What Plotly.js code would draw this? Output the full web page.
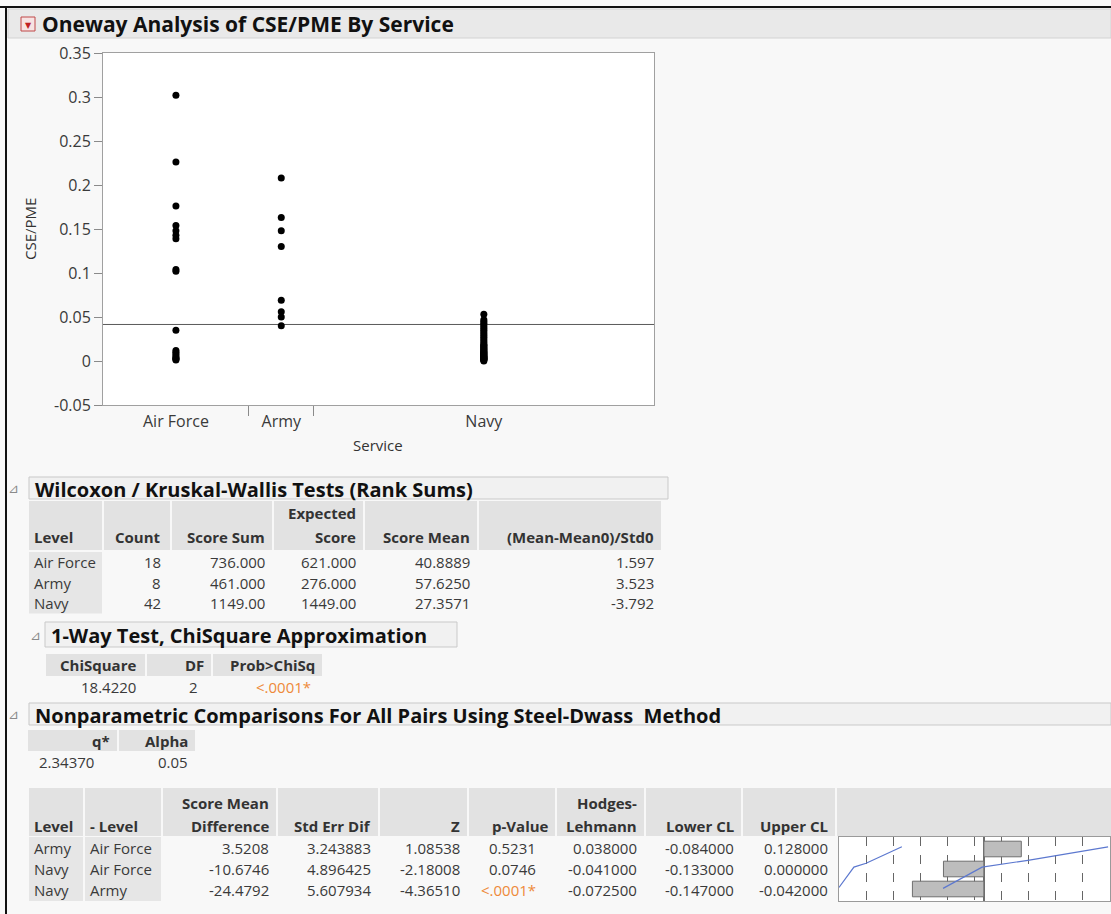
<!DOCTYPE html>
<html>
<head>
<meta charset="utf-8">
<script src="https://cdn.plot.ly/plotly-3.0.1.min.js"></script>
<style>
  html, body { margin: 0; padding: 0; background: #f8f8f8; }
  #chart { width: 1111px; height: 914px; }
</style>
</head>
<body>
<div id="chart"></div>
<script>
// ---------------- DATA ----------------
const services = ['Air Force', 'Army', 'Navy'];
const airForce = [0.302, 0.226, 0.176, 0.154, 0.148, 0.143, 0.139, 0.104, 0.102, 0.035,
                  0.012, 0.010, 0.008, 0.006, 0.004, 0.003, 0.002, 0.001];
const army = [0.208, 0.163, 0.148, 0.130, 0.069, 0.056, 0.050, 0.040];
const navy = [0.053, 0.047, 0.045, 0.043, 0.041, 0.039, 0.037, 0.035, 0.033, 0.031,
              0.029, 0.027, 0.025, 0.023, 0.021, 0.019, 0.018, 0.017, 0.016, 0.015,
              0.014, 0.013, 0.012, 0.011, 0.010, 0.009, 0.009, 0.008, 0.007, 0.007,
              0.006, 0.005, 0.005, 0.004, 0.004, 0.003, 0.003, 0.002, 0.002, 0.001,
              0.001, 0.000];
const grandMean = 0.0415;
const yTicks = [-0.05, 0, 0.05, 0.1, 0.15, 0.2, 0.25, 0.3, 0.35];
const yTickText = ['-0.05', '0', '0.05', '0.1', '0.15', '0.2', '0.25', '0.3', '0.35'];

// Wilcoxon / Kruskal-Wallis
const wLevel = ['Air Force', 'Army', 'Navy'];
const wCount = ['18', '8', '42'];
const wScoreSum = ['736.000', '461.000', '1149.00'];
const wExpected = ['621.000', '276.000', '1449.00'];
const wScoreMean = ['40.8889', '57.6250', '27.3571'];
const wStd0 = ['1.597', '3.523', '-3.792'];

// 1-way test
const chiSquare = ['18.4220'];
const chiDF = ['2'];
const chiProb = ['<.0001*'];

// Steel-Dwass
const qStar = ['2.34370'];
const alphaVal = ['0.05'];
const pLevel = ['Army', 'Navy', 'Navy'];
const pMinus = ['Air Force', 'Air Force', 'Army'];
const pScoreDiff = ['3.5208', '-10.6746', '-24.4792'];
const pStdErr = ['3.243883', '4.896425', '5.607934'];
const pZ = ['1.08538', '-2.18008', '-4.36510'];
const pValue = ['0.5231', '0.0746', '<.0001*'];
const hodges = [0.038, -0.041, -0.0725];
const lowerCL = [-0.084, -0.133, -0.147];
const upperCL = [0.128, 0.000, -0.042];
// blue curve in the small chart (fraction of width, row position)
const curveX = [0, 0.055, 0.10, 0.232, null, 0.384, 0.528, 0.697, 0.80, 0.90, 0.993];
const curveY = [1.92, 0.905, 0.71, -0.11, null, 1.97, 0.905, 0.565, 0.32, 0.08, -0.11];

// ---------------- HELPERS ----------------
const W = 1111, H = 914;
const px = x => x / W;
const py = y => 1 - y / H;
const FONT = 'Open Sans, Noto Sans, DejaVu Sans, sans-serif';
const shapes = [];
const annotations = [];

function rect(x0, y0, x1, y1, fill, line, lw) {
  shapes.push({type: 'rect', xref: 'paper', yref: 'paper', layer: 'below',
    x0: px(x0), x1: px(x1), y0: py(y1), y1: py(y0),
    fillcolor: fill, line: {color: line || 'rgba(0,0,0,0)', width: lw || 0}});
}
function hline(x0, x1, y, color, w) {
  shapes.push({type: 'line', xref: 'paper', yref: 'paper', layer: 'above',
    x0: px(x0), x1: px(x1), y0: py(y), y1: py(y), line: {color: color, width: w}});
}
function vline(x, y0, y1, color, w) {
  shapes.push({type: 'line', xref: 'paper', yref: 'paper', layer: 'above',
    x0: px(x), x1: px(x), y0: py(y0), y1: py(y1), line: {color: color, width: w}});
}
function text(x, y, t, o) {
  o = o || {};
  annotations.push({xref: 'paper', yref: 'paper', x: px(x), y: py(y), text: t,
    showarrow: false, xanchor: o.anchor || 'left', yanchor: 'middle',
    textangle: o.angle || 0,
    font: {family: FONT, size: o.size || 15, color: o.color || '#333'}});
}
function section(x0, x1, y0, y1, triX, title) {
  rect(x0, y0, x1, y1, '#f1f1f1', '#c9c9c9', 1);
  text(triX, (y0 + y1) / 2, '⊿', {size: 13, color: '#8a8a8a', anchor: 'center'});
  text(x0 + 4, (y0 + y1) / 2 + 1, '<b>' + title + '</b>', {size: 20, color: '#111'});
}
// generic table drawer
function table(cols, hTop, hBot, hLines, rTop, rowH, nRows) {
  cols.forEach(c => {
    rect(c.x0 + 1, hTop, c.x1 - 1, hBot, '#e2e2e2');
    if (c.grayBody) rect(c.x0 + 1, rTop, c.x1 - 1, rTop + rowH * nRows, '#e6e6e6');
    const lines = c.head;
    const off = hLines.length - lines.length;
    lines.forEach((ln, i) => {
      const tx = c.align === 'left' ? c.x0 + 4 : c.x1 - (c.pad || 6);
      text(tx, hLines[i + off], '<b>' + ln + '</b>', {anchor: c.align, color: '#333'});
    });
    c.vals.forEach((v, i) => {
      const tx = c.align === 'left' ? c.x0 + 4 : c.x1 - (c.vpad || c.pad || 6);
      const col = (typeof v === 'string' && v.startsWith('<')) ? '#ee8a3a' : '#3a3a3a';
      text(tx, rTop + rowH * (i + 0.5), v.replace('<', '&lt;'), {anchor: c.align, color: col});
    });
  });
}

// ---------------- FRAME / TITLE ----------------
rect(8, 9, 1111, 38, '#e9e9e9', '#d2d2d2', 1);
hline(0, 1111, 7, '#111', 2);
vline(6, 7, 914, '#111', 2);
rect(21, 17, 35, 31, '#f6e3e3', '#c04848', 1);
text(28, 24.5, '▼', {size: 8, color: '#c02222', anchor: 'center'});
text(40, 24, '<b>Oneway Analysis of CSE/PME By Service</b>', {size: 21, color: '#111'});

// axis titles
text(30, 229, 'CSE/PME', {angle: -90, anchor: 'center', color: '#333'});
text(378, 445, 'Service', {anchor: 'center', color: '#333'});

// ---------------- TABLES ----------------
section(29, 668, 477, 499, 13, 'Wilcoxon / Kruskal-Wallis Tests (Rank Sums)');
table([
  {x0: 28, x1: 103, align: 'left', head: ['Level'], vals: wLevel, grayBody: true},
  {x0: 103, x1: 171, align: 'right', pad: 8, head: ['Count'], vals: wCount},
  {x0: 171, x1: 273, align: 'right', head: ['Score Sum'], vals: wScoreSum},
  {x0: 273, x1: 364, align: 'right', head: ['Expected', 'Score'], vals: wExpected},
  {x0: 364, x1: 478, align: 'right', head: ['Score Mean'], vals: wScoreMean},
  {x0: 478, x1: 662, align: 'right', head: ['(Mean-Mean0)/Std0'], vals: wStd0}
], 501, 550, [513, 537], 552, 20.5, 3);

section(45, 457, 622, 647, 35, '1-Way Test, ChiSquare Approximation');
table([
  {x0: 45, x1: 146, align: 'right', pad: 8, head: ['ChiSquare'], vals: chiSquare},
  {x0: 146, x1: 212, align: 'right', pad: 6, vpad: 12, head: ['DF'], vals: chiDF},
  {x0: 212, x1: 323, align: 'right', pad: 6, vpad: 10, head: ['Prob&gt;ChiSq'], vals: chiProb}
], 654, 676, [665], 677, 20.5, 1);

section(29, 1111, 703, 725, 13, 'Nonparametric Comparisons For All Pairs Using Steel-Dwass  Method');
table([
  {x0: 27, x1: 118, align: 'right', pad: 6, vpad: 22, head: ['q*'], vals: qStar},
  {x0: 118, x1: 196, align: 'right', head: ['Alpha'], vals: alphaVal}
], 730, 751, [741], 752, 20.5, 1);

const fmt6 = a => a.map(v => v.toFixed(6));
table([
  {x0: 28, x1: 84, align: 'left', head: ['Level'], vals: pLevel, grayBody: true},
  {x0: 84, x1: 162, align: 'left', head: ['- Level'], vals: pMinus, grayBody: true},
  {x0: 162, x1: 277, align: 'right', head: ['Score Mean', 'Difference'], vals: pScoreDiff},
  {x0: 277, x1: 379, align: 'right', head: ['Std Err Dif'], vals: pStdErr},
  {x0: 379, x1: 468, align: 'right', head: ['Z'], vals: pZ},
  {x0: 468, x1: 556, align: 'right', pad: 5, vpad: 18, head: ['p-Value'], vals: pValue},
  {x0: 556, x1: 645, align: 'right', head: ['Hodges-', 'Lehmann'], vals: fmt6(hodges)},
  {x0: 645, x1: 742, align: 'right', head: ['Lower CL'], vals: fmt6(lowerCL)},
  {x0: 742, x1: 836, align: 'right', head: ['Upper CL'], vals: fmt6(upperCL)},
  {x0: 836, x1: 1112, align: 'right', head: [''], vals: []}
], 788, 836, [803, 826], 837, 21.3, 3);

// ---------------- TRACES ----------------
const counts = [airForce.length, army.length, navy.length];
const total = counts.reduce((a, b) => a + b, 0);
const bounds = [];
const centers = [];
let acc = 0;
counts.forEach(c => { centers.push(acc + c / 2); acc += c; bounds.push(acc); });
const groups = [airForce, army, navy];
const ptsX = [], ptsY = [];
groups.forEach((g, i) => g.forEach(v => { ptsX.push(centers[i]); ptsY.push(v); }));

const traces = [
  {type: 'scatter', mode: 'lines', x: [0, total], y: [grandMean, grandMean],
   line: {color: '#5a5a5a', width: 1}, xaxis: 'x', yaxis: 'y', hoverinfo: 'skip'},
  {type: 'scatter', mode: 'markers', x: ptsX, y: ptsY,
   marker: {color: '#000', size: 7}, xaxis: 'x', yaxis: 'y'},
  {type: 'bar', orientation: 'h', x: hodges, y: [0, 1, 2], width: 0.78,
   marker: {color: '#bdbdbd', line: {color: '#6e6e6e', width: 1}}, xaxis: 'x3', yaxis: 'y3'},
  {type: 'scatter', mode: 'lines', x: curveX, y: curveY, connectgaps: false,
   line: {color: '#5c78cf', width: 1.2}, xaxis: 'x4', yaxis: 'y3'}
];

const axisFont = {family: FONT, size: 16, color: '#3a3a3a'};
const layout = {
  width: W, height: H,
  margin: {l: 0, r: 0, t: 0, b: 0},
  paper_bgcolor: '#f8f8f8', plot_bgcolor: '#ffffff',
  showlegend: false,
  font: {family: FONT},
  xaxis: {domain: [px(103), px(654)], range: [0, total],
          tickmode: 'array', tickvals: centers, ticktext: services, ticks: '',
          tickfont: axisFont, ticklabelstandoff: 2,
          minor: {tickmode: 'array', tickvals: bounds.slice(0, -1), ticks: 'outside',
                  ticklen: 10, tickcolor: '#8a8a8a', tickwidth: 1, showgrid: false},
          showgrid: false, zeroline: false, showline: true, mirror: true,
          linecolor: '#a0a0a0', linewidth: 1},
  yaxis: {domain: [py(405), py(53)], range: [-0.05, 0.35], tickvals: yTicks, ticktext: yTickText,
          ticks: 'outside', ticklen: 8, tickcolor: '#8a8a8a', tickfont: axisFont,
          showgrid: false, zeroline: false, showline: true, mirror: true,
          linecolor: '#a0a0a0', linewidth: 1},
  xaxis3: {domain: [px(839), px(1110)], range: [Math.min(...lowerCL), Math.max(...upperCL)],
           showticklabels: false, ticks: '', showgrid: false, zeroline: true,
           zerolinecolor: '#6e6e6e', zerolinewidth: 1.5, showline: true, mirror: true,
           linecolor: '#9a9a9a', anchor: 'y3'},
  xaxis4: {overlaying: 'x3', domain: [px(839), px(1110)], range: [0, 1], dtick: 0.1, tick0: 0,
           showticklabels: false, ticks: '', showgrid: true, gridcolor: '#666',
           griddash: 'dash', gridwidth: 1, zeroline: false, anchor: 'y3'},
  yaxis3: {domain: [py(901), py(837)], range: [2.6, -0.6], showticklabels: false, ticks: '',
           showgrid: false, zeroline: false, showline: true, mirror: true,
           linecolor: '#9a9a9a', anchor: 'x3'},
  shapes: shapes,
  annotations: annotations
};

Plotly.newPlot('chart', traces, layout, {displayModeBar: false, staticPlot: true});
</script>
</body>
</html>
